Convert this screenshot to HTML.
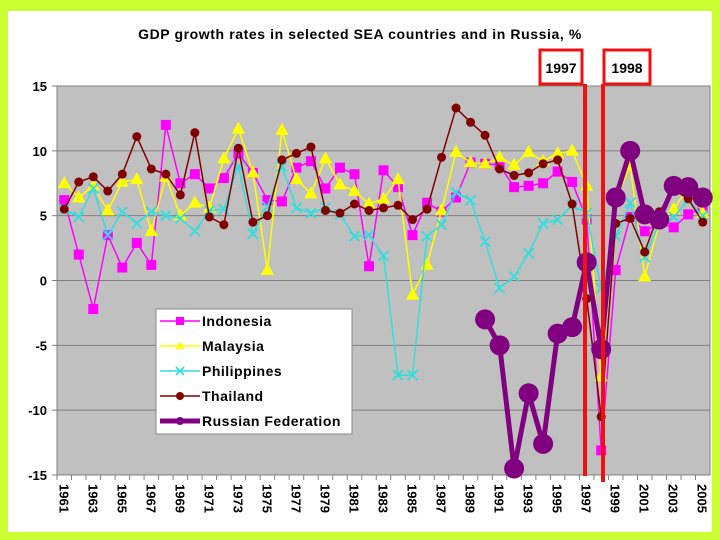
<!DOCTYPE html>
<html><head><meta charset="utf-8"><style>
html,body{margin:0;padding:0;background:#ccff33;}
svg{display:block;font-family:"Liberation Sans",Arial,sans-serif;}
</style></head><body>
<svg id="chart" width="720" height="540" viewBox="0 0 720 540">
<rect x="0" y="0" width="720" height="540" fill="#ccff33"/>
<rect x="8" y="11" width="704" height="521" fill="#ffffff"/>
<text x="360" y="39" text-anchor="middle" font-size="14" font-weight="bold" letter-spacing="0.6">GDP growth rates in selected SEA countries and in Russia, %</text>
<rect x="57" y="86" width="653" height="389" fill="#c0c0c0" stroke="#808080"/>
<g id="grid"></g><g id="axes"></g><g id="series"></g>
<rect x="540" y="50" width="42" height="34" fill="#fff" stroke="#ee1111" stroke-width="3"/>
<text x="561" y="73" text-anchor="middle" font-size="14" font-weight="bold">1997</text>
<rect x="604" y="50" width="46" height="34" fill="#fff" stroke="#ee1111" stroke-width="3"/>
<text x="627" y="73" text-anchor="middle" font-size="14" font-weight="bold">1998</text>
<line x1="585" y1="84" x2="585" y2="476" stroke="#ee1111" stroke-width="4"/>
<line x1="603" y1="84" x2="603" y2="482" stroke="#ee1111" stroke-width="4"/>
<g>
<rect x="156" y="309" width="196" height="125" fill="#fff" stroke="#888"/>
<g id="legend"></g>
</g>
</svg>
<script>
const years=[];for(let y=1961;y<=2005;y++)years.push(y);
const yTicks=[15,10,5,0,-5,-10,-15];
const indonesia=[6.2,2.0,-2.2,3.5,1.0,2.9,1.2,12.0,7.5,8.2,7.1,7.9,9.8,8.3,6.2,6.1,8.7,9.2,7.1,8.7,8.2,1.1,8.5,7.2,3.5,6.0,5.3,6.4,9.1,9.0,8.9,7.2,7.3,7.5,8.4,7.6,4.7,-13.1,0.8,4.9,3.8,4.4,4.1,5.1,5.6];
const malaysia=[7.5,6.4,7.3,5.4,7.6,7.8,3.8,8.0,5.0,6.0,5.6,9.4,11.7,8.3,0.8,11.6,7.8,6.7,9.4,7.4,6.9,5.9,6.3,7.8,-1.1,1.2,5.4,9.9,9.1,9.0,9.5,8.9,9.9,9.2,9.8,10.0,7.3,-7.4,6.1,8.9,0.3,4.4,5.5,7.2,5.2];
const philippines=[5.5,4.9,7.1,3.5,5.3,4.4,5.3,5.0,4.8,3.8,5.4,5.5,8.8,3.6,5.7,8.8,5.6,5.2,5.6,5.1,3.4,3.5,1.9,-7.3,-7.3,3.4,4.3,6.8,6.2,3.0,-0.6,0.3,2.1,4.4,4.7,5.8,5.2,-0.6,3.4,6.0,1.8,4.4,4.9,6.2,5.0];
const thailand=[5.5,7.6,8.0,6.9,8.2,11.1,8.6,8.2,6.6,11.4,4.9,4.3,10.2,4.5,5.0,9.3,9.8,10.3,5.4,5.2,5.9,5.4,5.6,5.8,4.7,5.5,9.5,13.3,12.2,11.2,8.6,8.1,8.3,9.0,9.3,5.9,-1.4,-10.5,4.4,4.8,2.2,5.3,7.0,6.3,4.5];
const russiaYears=[1990,1991,1992,1993,1994,1995,1996,1997,1998,1999,2000,2001,2002,2003,2004,2005];
const russia=[-3.0,-5.0,-14.5,-8.7,-12.6,-4.1,-3.6,1.4,-5.3,6.4,10.0,5.1,4.7,7.3,7.2,6.4];

const NS='http://www.w3.org/2000/svg';
const L=57,R=710,T=86,B=475,step=(R-L)/years.length;
const xs=yr=>L+step*(yr-years[0]+0.5);
const ys=v=>T+(15-v)/30*(B-T);
function mk(tag,at,parent){const e=document.createElementNS(NS,tag);for(const k in at)e.setAttribute(k,at[k]);parent.appendChild(e);return e;}
const grid=document.getElementById('grid'),axes=document.getElementById('axes'),ser=document.getElementById('series'),leg=document.getElementById('legend');
yTicks.forEach(t=>{
 if(t<15&&t>-15){const g=mk('line',{x1:L,x2:R,y1:ys(t),y2:ys(t),stroke:'#808080','stroke-width':1},grid);
 
 }
 const tk=mk('line',{x1:L-5,x2:L,y1:ys(t),y2:ys(t),stroke:'#808080'},axes);
 
 
 const tx=mk('text',{x:L-10,y:ys(t)+5,'text-anchor':'end','font-size':13,'font-weight':'bold'},axes);
 tx.textContent=t;
 
 
});
years.forEach((yr,i)=>{
 const x=L+step*i;
 const tk=mk('line',{x1:x,x2:x,y1:B,y2:B+5,stroke:'#808080'},axes);
 
 
 if(yr%2===1){const c=xs(yr);
  const tx=mk('text',{x:0,y:0,transform:`translate(${c-5},${B+9}) rotate(90)`,'font-size':13,'font-weight':'bold'},axes);
  tx.textContent=yr;
  
  }
});
function marker(type,x,y,color,size,parent){
 if(type==='square')return mk('rect',{x:x-size,y:y-size,width:2*size,height:2*size,fill:color},parent);
 if(type==='tri')return mk('polygon',{points:`${x},${y-size*1.2} ${x-size*1.1},${y+size*0.8} ${x+size*1.1},${y+size*0.8}`,fill:color},parent);
 if(type==='x'){return mk('path',{d:`M${x-size} ${y-size}L${x+size} ${y+size}M${x+size} ${y-size}L${x-size} ${y+size}`,stroke:color,'stroke-width':1.8,fill:'none'},parent);}
 return mk('circle',{cx:x,cy:y,r:size,fill:color},parent);
}
const seriesDefs=[
 {name:'indonesia',vals:indonesia,yrs:years,color:'#ff00ff',w:1.5,m:'square',s:5},
 {name:'malaysia',vals:malaysia,yrs:years,color:'#ffff00',w:1.5,m:'tri',s:6},
 {name:'philippines',vals:philippines,yrs:years,color:'#33dddd',w:1.5,m:'x',s:5},
 {name:'thailand',vals:thailand,yrs:years,color:'#800000',w:1.5,m:'circle',s:4.5},
 {name:'russia',vals:russia,yrs:russiaYears,color:'#800080',w:5,m:'circle',s:10}
];
seriesDefs.forEach(sd=>{
 const g=mk('g',{},ser);
 
 
 const pts=sd.vals.map((v,i)=>xs(sd.yrs[i])+','+ys(v)).join(' ');
 const pl=mk('polyline',{points:pts,fill:'none',stroke:sd.color,'stroke-width':sd.w,'stroke-linejoin':'round'},g);
 
 
 sd.vals.forEach((v,i)=>{const m=marker(sd.m,xs(sd.yrs[i]),ys(v),sd.color,sd.s,g);
  
  });
});
const legNames=['Indonesia','Malaysia','Philippines','Thailand','Russian Federation'];
seriesDefs.forEach((sd,i)=>{
 const y=321+i*25;
 const ln=mk('line',{x1:160,x2:200,y1:y,y2:y,stroke:sd.color,'stroke-width':sd.w},leg);
 
 
 const m=marker(sd.m,180,y,sd.color,4,leg);
 
 
 const t=mk('text',{x:202,y:y+5,'font-size':14,'font-weight':'bold','letter-spacing':0.5},leg);
 t.textContent=legNames[i];
 
 
});
</script>
</body></html>
